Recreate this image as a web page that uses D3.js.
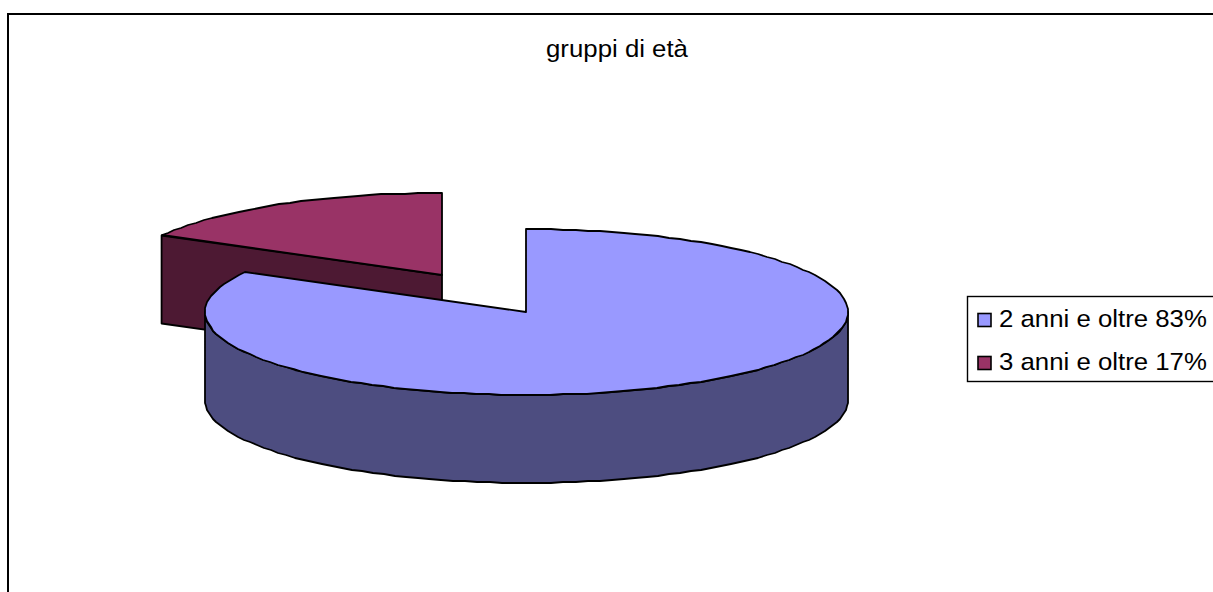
<!DOCTYPE html>
<html><head><meta charset="utf-8">
<script src="https://cdn.jsdelivr.net/npm/d3@7"></script>
<style>html,body{margin:0;background:#fff}svg{display:block}text{font-family:"Liberation Sans",Arial,sans-serif;fill:#000}</style>
</head><body><script>
const categories=["2 anni e oltre 83%","3 anni e oltre 17%"];
const values=[83,17];
const colors=["#9999ff","#993366"];
const sideColors=["#4d4d80","#4d1933"];
const title="gruppi di età";
const W=1213,H=592;
const svg=d3.select("body").append("svg").attr("width",W).attr("height",H);
svg.append("rect").attr("x",8).attr("y",14).attr("width",W+20).attr("height",H+20).attr("fill","#fff").attr("stroke","#000").attr("stroke-width",2);
const stretch=1.075,fs=24;
const stext=(p,x,y,t,anchor)=>p.append("text").attr("transform",`translate(${x},${y}) scale(${stretch},1)`).attr("text-anchor",anchor||"start").attr("font-size",fs).text(t);
stext(svg,617,57,title,"middle");
const arcs=d3.pie().sort(null)(values);
const radii=[[321.5,83],[320,82]],depth=88;
const centers=[[526.5,312],[442,275]];
const pt=(i,a,dy=0)=>[centers[i][0]+radii[i][0]*Math.sin(a),centers[i][1]-radii[i][1]*Math.cos(a)+dy];
const jag=p=>[Math.round(p[0]),Math.round(p[1])];
function poly(pts,close){return d3.line()(pts)+(close?"Z":"");}
function ell(i,a0,a1,dy=0){const k=Math.max(4,Math.round(Math.abs(a1-a0)*26));return d3.range(0,k+1).map(j=>jag(pt(i,a0+(a1-a0)*j/k,dy)));}
const style=(s,f)=>s.attr("fill",f).attr("stroke","#000").attr("stroke-width",1.8).attr("stroke-linejoin","round");
// red slice
const r=arcs[1],cR=centers[1];
style(svg.append("path").attr("d",poly([pt(1,r.startAngle),cR,[cR[0],cR[1]+depth],pt(1,r.startAngle,depth)],true)),sideColors[1]);
style(svg.append("path").attr("d",poly([cR,...ell(1,r.startAngle,r.endAngle)],true)),colors[1]);
// blue slice
const b=arcs[0];
const A90=Math.PI/2,A270=Math.PI*1.5;
style(svg.append("path").attr("d",poly([...ell(0,A90,A270),...ell(0,A270,A90,depth)],true)),sideColors[0]);
style(svg.append("path").attr("d",poly([[526,312],[526,229],...ell(0,b.startAngle,b.endAngle).slice(1)],true)),colors[0]);
// legend
const lg=svg.append("g");
lg.append("rect").attr("x",967.5).attr("y",296.5).attr("width",250).attr("height",85).attr("fill","#fff").attr("stroke","#000").attr("stroke-width",1.4);
categories.forEach((c,i)=>{
 const base=327+i*43;
 lg.append("rect").attr("x",978).attr("y",base-13.5).attr("width",13).attr("height",13).attr("fill",colors[i]).attr("stroke","#000").attr("stroke-width",1.6);
 stext(lg,999,base,c);
});
</script></body></html>
